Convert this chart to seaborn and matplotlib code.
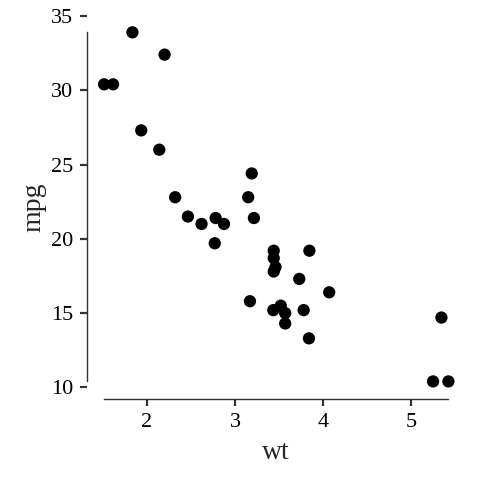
import pandas as pd
import matplotlib
matplotlib.use("Agg")
import matplotlib.pyplot as plt
import seaborn as sns

# mtcars: weight (1000 lbs) and miles per gallon
wt = [2.620, 2.875, 2.320, 3.215, 3.440, 3.460, 3.570, 3.190, 3.150, 3.440,
      3.440, 4.070, 3.730, 3.780, 5.250, 5.424, 5.345, 2.200, 1.615, 1.835,
      2.465, 3.520, 3.435, 3.840, 3.845, 1.935, 2.140, 1.513, 3.170, 2.770,
      3.570, 2.780]
mpg = [21.0, 21.0, 22.8, 21.4, 18.7, 18.1, 14.3, 24.4, 22.8, 19.2,
       17.8, 16.4, 17.3, 15.2, 10.4, 10.4, 14.7, 32.4, 30.4, 33.9,
       21.5, 15.5, 15.2, 13.3, 19.2, 27.3, 26.0, 30.4, 15.8, 19.7,
       15.0, 21.4]
x_ticks = [2, 3, 4, 5]
y_ticks = [10, 15, 20, 25, 30, 35]

cars = pd.DataFrame({"wt": wt, "mpg": mpg})

sns.set_style("ticks")
plt.rcParams["font.family"] = ["Liberation Serif", "DejaVu Serif"]

fig = plt.figure(figsize=(4.8, 4.8), dpi=100)
ax = fig.add_axes([0.181, 0.169, 0.789, 0.800])

sns.scatterplot(data=cars, x="wt", y="mpg", color="black", s=78,
                edgecolor="none", ax=ax)

# ggplot-like 5% expansion
xr = max(wt) - min(wt)
yr = max(mpg) - min(mpg)
ax.set_xlim(min(wt) - 0.05 * xr, max(wt) + 0.05 * xr)
ax.set_ylim(min(mpg) - 0.05 * yr, max(mpg) + 0.05 * yr)
ax.set_xticks(x_ticks)
ax.set_yticks(y_ticks)

# range frame
for side in ["top", "right"]:
    ax.spines[side].set_visible(False)
ax.spines["left"].set_bounds(min(mpg), max(mpg))
ax.spines["bottom"].set_bounds(min(wt), max(wt))
for side in ["left", "bottom"]:
    ax.spines[side].set_color("#333333")
    ax.spines[side].set_linewidth(1.0)

ax.tick_params(axis="both", length=5, width=1.6, color="#333333",
               labelsize=16, labelcolor="black", pad=5)
ax.set_xlabel("wt", fontsize=20, labelpad=6)
ax.set_ylabel("mpg", fontsize=20, labelpad=3)

fig.savefig("out.png", dpi=100)
